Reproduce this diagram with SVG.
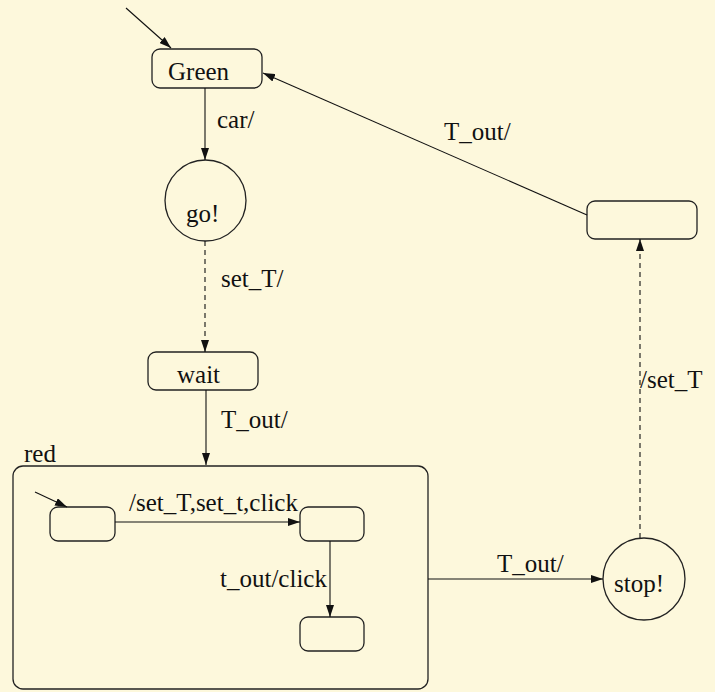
<svg xmlns="http://www.w3.org/2000/svg" width="715" height="692" viewBox="0 0 715 692">
  <style>
    .state { fill: none; stroke: #222; stroke-width: 1.3; }
    .conn { fill: none; stroke: #111; stroke-width: 1.1; }
    .dash { stroke-dasharray: 5 4; }
    text { font-family: "Liberation Serif", "Times New Roman", serif; font-size: 25px; fill: #111; }
  </style>
  <defs>
    <marker id="arrow" viewBox="0 0 12 8" refX="12" refY="4" markerWidth="12" markerHeight="8" markerUnits="userSpaceOnUse" orient="auto">
      <path d="M0,0 L12,4 L0,8 Z" fill="#111"/>
    </marker>
  </defs>
  <rect width="715" height="692" fill="#fdf8dc"/>

  <g id="green">
    <rect class="state" x="152" y="49" width="110" height="39" rx="8"/>
    <text x="168" y="80">Green</text>
  </g>
  <g id="go">
    <circle class="state" cx="205.5" cy="200.5" r="40.5"/>
    <text x="186" y="222">go!</text>
  </g>
  <g id="wait">
    <rect class="state" x="148" y="352" width="110" height="38" rx="8"/>
    <text x="177" y="383">wait</text>
  </g>
  <g id="red">
    <rect class="state" x="13" y="466" width="415" height="223" rx="10"/>
    <text x="24" y="462">red</text>
  </g>
  <g id="red-a">
    <rect class="state" x="50" y="507" width="65" height="34" rx="8"/>
  </g>
  <g id="red-b">
    <rect class="state" x="300" y="507" width="64" height="34" rx="8"/>
  </g>
  <g id="red-c">
    <rect class="state" x="300" y="617" width="64" height="34" rx="8"/>
  </g>
  <g id="stop">
    <circle class="state" cx="644" cy="579" r="41"/>
    <text x="614" y="592">stop!</text>
  </g>
  <g id="after-stop">
    <rect class="state" x="587" y="201" width="110" height="38" rx="8"/>
  </g>

  <g id="connectors">
    <line class="conn" x1="126" y1="8" x2="171" y2="48" marker-end="url(#arrow)"/>
    <line class="conn" x1="205" y1="88" x2="205" y2="160" marker-end="url(#arrow)"/>
    <text x="217" y="128">car/</text>
    <line class="conn dash" x1="205" y1="241" x2="205" y2="352" marker-end="url(#arrow)"/>
    <text x="221" y="287">set_T/</text>
    <line class="conn" x1="206" y1="390" x2="206" y2="465" marker-end="url(#arrow)"/>
    <text x="221" y="428">T_out/</text>
    <line class="conn" x1="35" y1="492" x2="67" y2="507" marker-end="url(#arrow)"/>
    <line class="conn" x1="115" y1="522" x2="300" y2="522" marker-end="url(#arrow)"/>
    <text x="129" y="511">/set_T,set_t,click</text>
    <line class="conn" x1="330" y1="541" x2="330" y2="617" marker-end="url(#arrow)"/>
    <text x="220" y="587">t_out/click</text>
    <line class="conn" x1="428" y1="579" x2="603" y2="579" marker-end="url(#arrow)"/>
    <text x="497" y="572">T_out/</text>
    <line class="conn dash" x1="640" y1="538" x2="640" y2="239" marker-end="url(#arrow)"/>
    <text x="640" y="388">/set_T</text>
    <line class="conn" x1="587" y1="215" x2="263" y2="73" marker-end="url(#arrow)"/>
    <text x="444" y="140">T_out/</text>
  </g>
</svg>
